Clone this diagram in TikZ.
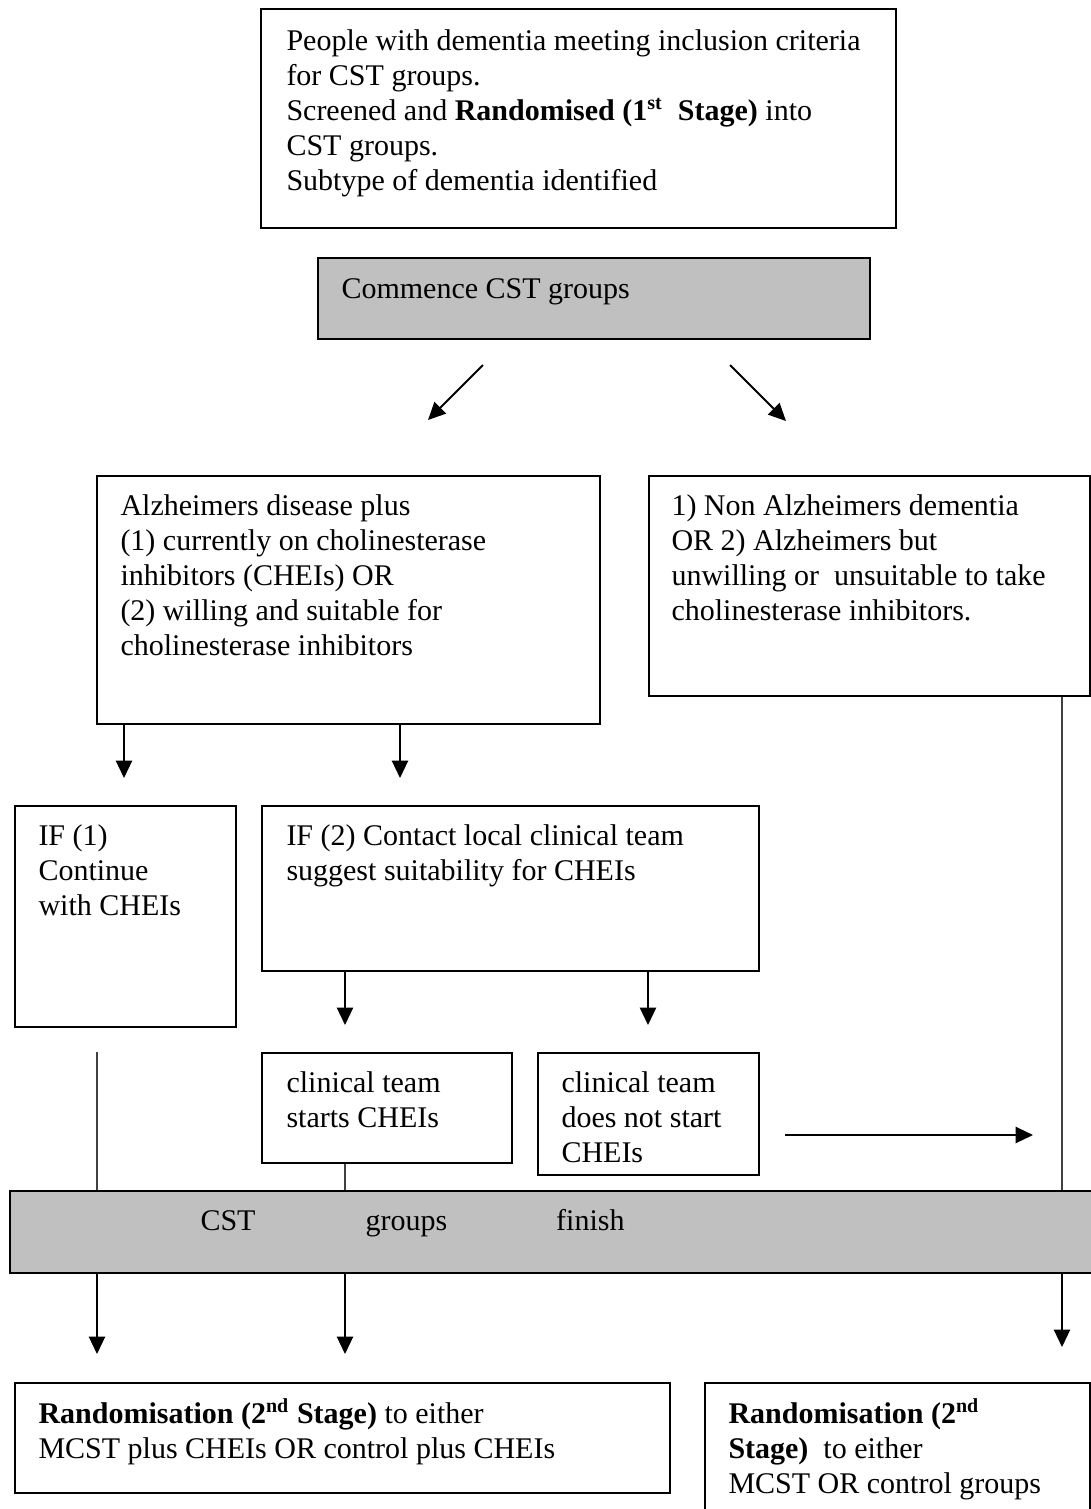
\documentclass[tikz,border=0pt]{standalone}
\usepackage{fontspec}
\setmainfont{Liberation Serif}
\usetikzlibrary{arrows.meta, positioning}
\definecolor{barfill}{RGB}{192,192,192}
\def\pxl{0.4pt}
\tikzset{
    box/.style 2 args={draw, line width=0.8pt, anchor=north west, inner sep=0pt,
        minimum width=#1*\pxl, minimum height=#2*\pxl}, % box of given size in pixels
    txt/.style={inner sep=0pt, align=left, anchor=north west,
        font=\fontsize{12}{14}\selectfont, execute at begin node=\strut}, % text in a box
    arr/.style={line width=0.8pt, -{Triangle[length=7pt, width=6.5pt]}}, % arrow
    link/.style={line width=0.6pt, black!75} % plain line
}

\begin{document}
\begin{tikzpicture}[x=\pxl, y=-\pxl]
    \useasboundingbox (0,0) rectangle (1091,1509);
    \clip (0,0) rectangle (1091,1509);

    % boxes
    \node[box={635}{219}] (screen) at (260,8) {};
    \node[box={552}{81}, fill=barfill] (commence) at (317,257) {};
    \node[box={503}{248}] (alz) at (96,475) {};
    \node[box={441}{220}] (nonalz) at (648,475) {};
    \node[box={221}{221}] (if1) at (14,805) {};
    \node[box={497}{165}] (if2) at (261,805) {};
    \node[box={250}{110}] (starts) at (261,1052) {};
    \node[box={221}{122}] (nostart) at (537,1052) {};
    \node[box={1100}{82}, fill=barfill] (finish) at (9,1190) {};
    \node[box={655}{110}] (rand1) at (14,1382) {};
    \node[box={385}{140}] (rand2) at (704,1382) {};

    % texts
    \node[txt, below right=8.4pt and 10.4pt of screen.north west] (screen text)
        {People with dementia meeting inclusion criteria\\ for CST groups.\\
         Screened and \textbf{Randomised (1\textsuperscript{st}\ \ Stage)} into\\
         CST groups.\\ Subtype of dementia identified};
    \node[txt, below right=6.6pt and 9.6pt of commence.north west] (commence text) {Commence CST groups};
    \node[txt, below right=7.8pt and 9.6pt of alz.north west] (alz text)
        {Alzheimers disease plus\\ (1) currently on cholinesterase\\ inhibitors (CHEIs) OR\\
         (2) willing and suitable for\\ cholinesterase inhibitors};
    \node[txt, below right=7.8pt and 9.2pt of nonalz.north west] (nonalz text)
        {1) Non Alzheimers dementia\\ OR 2) Alzheimers but\\
         unwilling or\ \ unsuitable to take\\ cholinesterase inhibitors.};
    \node[txt, below right=7.8pt and 9.6pt of if1.north west] (if1 text) {IF (1)\\ Continue\\ with CHEIs};
    \node[txt, below right=7.8pt and 10pt of if2.north west] (if2 text)
        {IF (2) Contact local clinical team\\ suggest suitability for CHEIs};
    \node[txt, below right=7.8pt and 10pt of starts.north west] (starts text) {clinical team\\ starts CHEIs};
    \node[txt, below right=7.8pt and 9.6pt of nostart.north west] (nostart text)
        {clinical team\\ does not start\\ CHEIs};
    \node[txt, below right=6.2pt and 76.4pt of finish.north west] (finish text)
        {CST\hspace{44pt}groups\hspace{43.6pt}finish};
    \node[txt, below right=6.6pt and 9.6pt of rand1.north west] (rand1 text)
        {\textbf{Randomisation (2\textsuperscript{nd} Stage)} to either\\ MCST plus CHEIs OR control plus CHEIs};
    \node[txt, below right=6.6pt and 9.6pt of rand2.north west] (rand2 text)
        {\textbf{Randomisation (2\textsuperscript{nd}}\\ \textbf{Stage)}\ \ to either\\ MCST OR control groups};

    % free ends of the connectors
    \coordinate (dl0) at (483,365); \coordinate (dl1) at (428,420);
    \coordinate (dr0) at (730,365); \coordinate (dr1) at (786,421);
    \coordinate (a1) at (124,778); \coordinate (a2) at (400,778);
    \coordinate (b1) at (345,1025); \coordinate (b2) at (648,1025);
    \coordinate (h0) at (785,1135); \coordinate (h1) at (1033,1135);
    \coordinate (l0) at (97,1052);
    \coordinate (e1) at (97,1354); \coordinate (e2) at (345,1354); \coordinate (e3) at (1062,1347);

    % connectors
    \draw[arr] (dl0) -- (dl1);
    \draw[arr] (dr0) -- (dr1);
    \foreach \c in {a1,a2} {\draw[arr] (\c |- alz.south) -- (\c);}
    \foreach \c in {b1,b2} {\draw[arr] (\c |- if2.south) -- (\c);}
    \draw[arr] (h0) -- (h1);
    \draw[link] (l0) -- (l0 |- finish.north);
    \draw[link] (starts.south -| e2) -- (e2 |- finish.north);
    \draw[link] (nonalz.south -| e3) -- (e3 |- finish.north);
    \foreach \c in {e1,e2,e3} {\draw[arr] (\c |- finish.south) -- (\c);}
\end{tikzpicture}
\end{document}
